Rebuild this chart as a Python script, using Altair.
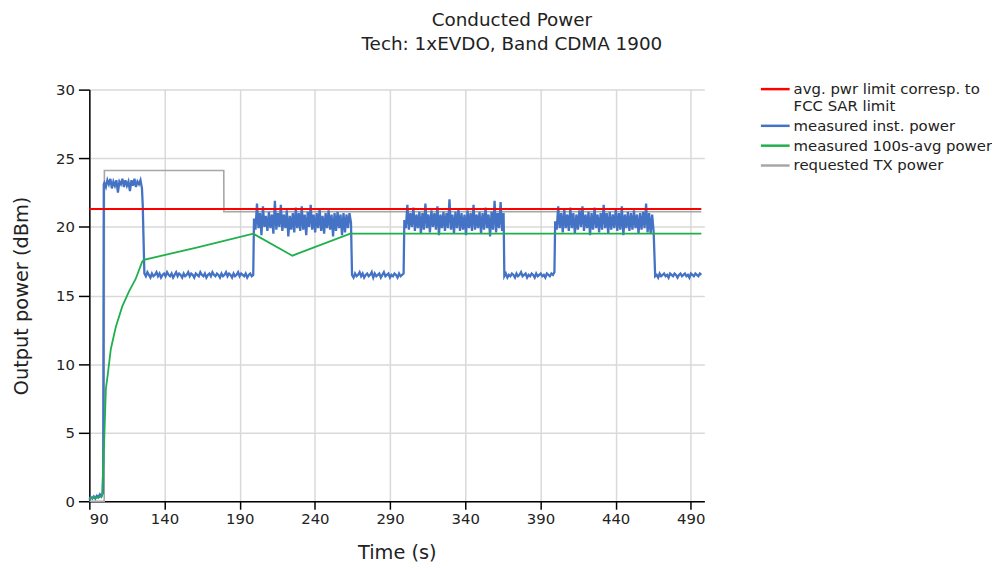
import altair as alt
import numpy as np
import pandas as pd

SERIES = [
    "avg. pwr limit corresp. to FCC SAR limit",
    "measured inst. power",
    "measured 100s-avg power",
    "requested TX power",
]
COLORS = ["#ff0000", "#4472c4", "#1fb04c", "#a6a6a6"]

X_TICKS = [90, 140, 190, 240, 290, 340, 390, 440, 490]
Y_TICKS = [0, 5, 10, 15, 20, 25, 30]

# ---- requested TX power (gray) ----
gray_t = [90.0, 99.9, 100.0, 179.4, 179.5, 497.0]
gray_v = [0.0, 0.0, 24.1, 24.1, 21.1, 21.1]

# ---- FCC SAR limit (red) ----
red_t = [90.0, 497.0]
red_v = [21.3, 21.3]

# ---- measured 100s-avg power (green) ----
green_t = [90.0, 93.0, 96.0, 98.5, 99.9, 101.0, 102.1, 104.3, 107.6, 111.9,
           116.4, 120.8, 125.1, 126.3, 162.0, 199.0, 225.0, 263.5, 497.0]
green_v = [0.2, 0.3, 0.25, 0.4, 4.5, 8.2, 9.1, 11.1, 12.7, 14.2,
           15.3, 16.2, 17.45, 17.6, 18.5, 19.5, 17.9, 19.5, 19.5]

# ---- measured inst. power (blue), read segment by segment ----
pre = [0.1, 0.3, 0.2, 0.35, 0.2, 0.4, 0.3, 0.5, 0.35, 0.6]
high1 = [23.2, 22.9, 23.4, 23.1, 23.5, 22.8, 23.3, 23.0, 23.4, 22.5, 23.3, 23.1, 23.5,
         22.9, 23.4, 23.0, 23.3, 22.6, 23.4, 23.0, 23.5, 22.9, 23.3, 23.1, 23.4, 22.8]
low1 = [16.6, 16.4, 16.7, 16.5, 16.3, 16.6, 16.4, 16.5, 16.7, 16.4, 16.6, 16.3, 16.5, 16.6,
        16.4, 16.7, 16.5, 16.4, 16.6, 16.3, 16.5, 16.7, 16.4, 16.6, 16.5, 16.3, 16.6, 16.4,
        16.5, 16.7, 16.4, 16.6, 16.5, 16.3, 16.6, 16.5, 16.4, 16.7, 16.5, 16.4, 16.6, 16.3,
        16.5, 16.6, 16.4, 16.7, 16.5, 16.4, 16.6, 16.5, 16.3, 16.6, 16.4, 16.5, 16.7, 16.4,
        16.6, 16.5, 16.3, 16.6, 16.4, 16.5, 16.7, 16.4, 16.6, 16.5, 16.4, 16.6, 16.3, 16.5,
        16.6, 16.4, 16.5]
high2 = [20.6, 19.8, 21.7, 19.9, 21.0, 19.4, 21.5, 20.0, 20.8, 19.7, 21.1, 19.9, 20.9, 19.5,
         21.9, 19.8, 21.0, 20.0, 21.6, 19.7, 20.9, 19.9, 21.2, 19.3, 20.8, 19.8, 21.0, 19.6,
         21.4, 19.9, 21.0, 19.7, 21.5, 19.8, 20.9, 19.4, 21.1, 20.0, 21.6, 19.8, 20.9, 19.6,
         21.0, 19.9, 21.3, 19.7, 20.8, 19.5, 21.0, 19.9, 21.2, 19.8, 20.9, 19.3, 21.0, 19.7,
         21.1, 19.9, 20.9, 19.4, 21.0, 19.6, 20.9, 19.9, 21.0, 20.3]
low2 = [16.5, 16.3, 16.6, 16.4, 16.5, 16.7, 16.4, 16.6, 16.3, 16.5, 16.6, 16.4, 16.5, 16.7,
        16.3, 16.6, 16.4, 16.5, 16.6, 16.3, 16.5, 16.7, 16.4, 16.5, 16.6, 16.3, 16.5, 16.4,
        16.6, 16.5, 16.3, 16.6, 16.4, 16.5, 16.6]
high3 = [20.5, 19.9, 21.6, 19.8, 21.0, 20.0, 21.4, 19.7, 20.9, 19.9, 21.1, 19.5, 21.0, 19.8,
         21.7, 19.9, 20.9, 19.6, 21.2, 20.0, 21.0, 19.8, 21.5, 19.4, 20.9, 19.9, 21.1, 19.7,
         21.0, 19.9, 22.0, 19.8, 20.9, 19.5, 21.1, 19.9, 21.3, 19.7, 21.0, 19.8, 20.9, 19.4,
         21.2, 19.9, 21.0, 19.7, 21.6, 19.8, 20.9, 19.9, 21.1, 19.5, 21.0, 19.8, 21.4, 19.9,
         20.9, 19.3, 21.1, 19.8, 21.9, 19.6, 21.0, 19.9, 21.8, 19.7, 21.0]
low3 = [16.4, 16.6, 16.3, 16.5, 16.4, 16.6, 16.5, 16.3, 16.6, 16.4, 16.5, 16.7, 16.4, 16.5,
        16.6, 16.3, 16.5, 16.4, 16.6, 16.5, 16.3, 16.6, 16.4, 16.5, 16.6, 16.4, 16.5, 16.3,
        16.6, 16.5, 16.4, 16.6, 16.5, 16.7]
high4 = [20.4, 19.8, 21.5, 19.9, 21.0, 19.6, 21.3, 19.9, 20.9, 19.7, 21.4, 19.9, 21.0, 19.5,
         20.9, 19.8, 21.2, 20.0, 21.5, 19.7, 20.9, 19.9, 21.1, 19.4, 21.0, 19.8, 21.4, 19.9,
         20.9, 19.6, 21.0, 19.8, 21.6, 19.9, 21.0, 19.5, 21.1, 19.8, 20.9, 19.9, 21.3, 19.7,
         21.0, 19.8, 21.5, 19.4, 20.9, 19.9, 21.1, 19.7, 21.0, 19.8, 21.2, 19.9, 20.9, 19.5,
         21.0, 19.8, 21.1, 19.9, 21.7, 19.6, 21.0, 19.5, 20.9, 19.6]
low4 = [16.4, 16.5, 16.3, 16.6, 16.4, 16.5, 16.6, 16.4, 16.5, 16.3, 16.6, 16.5, 16.4, 16.6,
        16.5, 16.3, 16.5, 16.6, 16.4, 16.5, 16.6, 16.4, 16.5, 16.3, 16.6, 16.5, 16.4, 16.6,
        16.5, 16.4, 16.6, 16.5]

# time span (s) of each read segment
blue_segments = [
    (90.0, 99.0, pre),
    (100.0, 125.0, high1),
    (126.6, 199.0, low1),
    (199.5, 264.0, high2),
    (264.7, 299.0, low2),
    (299.5, 365.5, high3),
    (366.0, 399.3, low3),
    (399.8, 465.3, high4),
    (466.3, 497.0, low4),
]
# single transition points
blue_extra_t = [99.2, 99.6, 125.5]
blue_extra_v = [2.3, 23.1, 21.6]

bt, bv = list(blue_extra_t), list(blue_extra_v)
for t0, t1, vals in blue_segments:
    bt.extend(np.linspace(t0, t1, len(vals)).tolist())
    bv.extend(vals)
order = np.argsort(bt)
blue_df = pd.DataFrame({"t": np.array(bt)[order], "v": np.array(bv)[order], "s": SERIES[1]})
red_df = pd.DataFrame({"t": red_t, "v": red_v, "s": SERIES[0]})
green_df = pd.DataFrame({"t": green_t, "v": green_v, "s": SERIES[2]})
gray_df = pd.DataFrame({"t": gray_t, "v": gray_v, "s": SERIES[3]})

FONT = "DejaVu Sans"
TXT = "#222222"

label_expr = (
    "datum.label == '" + SERIES[0] + "' ? "
    "['avg. pwr limit corresp. to', 'FCC SAR limit'] : datum.label"
)

color = alt.Color(
    "s:N",
    scale=alt.Scale(domain=SERIES, range=COLORS),
    legend=alt.Legend(
        orient="none", legendX=680, legendY=-12, title=None,
        symbolType="M-1.45,0H1.45", symbolSize=400, symbolStrokeWidth=2.5,
        labelFont=FONT, labelFontSize=15, labelColor=TXT, labelOffset=7,
        rowPadding=0, padding=0, labelLimit=400, labelExpr=label_expr,
    ),
)
x = alt.X(
    "t:Q",
    scale=alt.Scale(domain=[90, 499], nice=False, zero=False),
    axis=alt.Axis(values=X_TICKS, title="Time (s)", tickSize=8, labelPadding=2,
                  titleX=310, titleY=52, titleAlign="center", titleBaseline="middle"),
)
y = alt.Y(
    "v:Q",
    scale=alt.Scale(domain=[0, 30], nice=False),
    axis=alt.Axis(values=Y_TICKS, title="Output power (dBm)", tickSize=11, labelPadding=4,
                  titleX=-68, titleY=207.5, titleAngle=-90, titleAlign="center",
                  titleBaseline="middle"),
)

def layer(df, width):
    return alt.Chart(df).mark_line(strokeWidth=width, interpolate="linear").encode(
        x=x, y=y, color=color, order=alt.Order("t:Q")
    )

chart = alt.layer(
    layer(gray_df, 1.6),
    layer(blue_df, 2.3),
    layer(green_df, 1.8),
    layer(red_df, 2.0),
).properties(
    width=620,
    height=415,
    title=alt.TitleParams(
        text=["Conducted Power", "Tech: 1xEVDO, Band CDMA 1900"],
        font=FONT, fontSize=18.5, fontWeight="normal", color=TXT,
        anchor="middle", frame="group", dx=116, offset=24.5, lineHeight=24,
    ),
    autosize=alt.AutoSizeParams(type="none"),
    padding={"left": 82, "top": 80, "right": 290, "bottom": 67},
).configure_view(stroke=None).configure_axis(
    labelFont=FONT, labelFontSize=15, labelColor=TXT,
    titleFont=FONT, titleFontSize=19.5, titleFontWeight="normal", titleColor=TXT,
    domainColor="#000000", domainWidth=1.5, tickColor="#000000", tickWidth=1.5,
    gridColor="#d9d9d9", gridWidth=1.5,
)

chart.save("out.html", embed_options={"renderer": "svg", "actions": False})
